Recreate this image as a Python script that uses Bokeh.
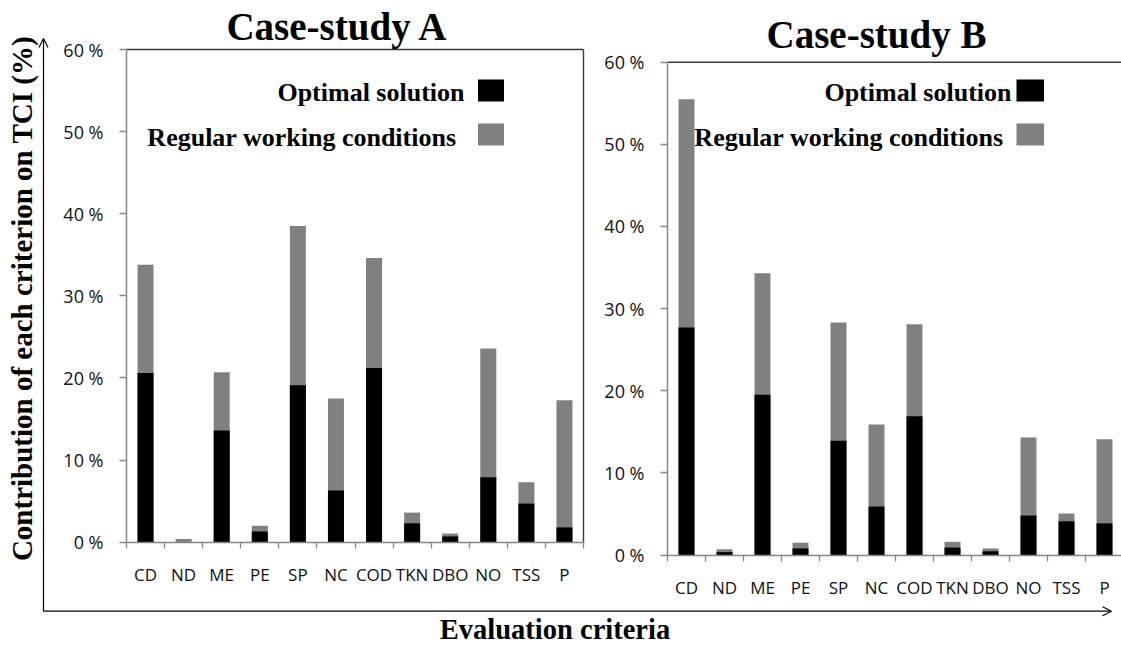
import math
from bokeh.plotting import figure
from bokeh.models import (Range1d, FixedTicker, Label, Arrow, OpenHead,
                          BoxAnnotation, ColumnDataSource, LinearAxis)
from bokeh.embed import file_html
from bokeh.resources import INLINE

# ---------------- data ----------------
criteria = ["CD", "ND", "ME", "PE", "SP", "NC", "COD", "TKN", "DBO", "NO", "TSS", "P"]
a_optimal = [20.6, 0.0, 13.6, 1.3, 19.1, 6.3, 21.2, 2.3, 0.7, 7.9, 4.7, 1.8]
a_regular = [33.8, 0.4, 20.7, 2.0, 38.5, 17.5, 34.6, 3.6, 1.05, 23.6, 7.3, 17.3]
b_optimal = [27.7, 0.35, 19.5, 0.8, 13.9, 5.9, 16.9, 0.9, 0.45, 4.8, 4.1, 3.85]
b_regular = [55.5, 0.7, 34.3, 1.5, 28.3, 15.9, 28.1, 1.6, 0.8, 14.3, 5.05, 14.1]
y_ticks = [0, 10, 20, 30, 40, 50, 60]
y_tick_labels = ["0 %", "10 %", "20 %", "30 %", "40 %", "50 %", "60 %"]
titles = ["Case-study A", "Case-study B"]
legend_labels = ["Optimal solution", "Regular working conditions"]
y_title = "Contribution of each criterion on TCI (%)"
x_title = "Evaluation criteria"

BLACK = "#000000"
GREY = "#808080"
AXIS = "#868686"
BORDER = "#3a3a3a"
SERIF = "Liberation Serif"
SANS = "Open Sans"

W, H = 1121, 648
N = len(criteria)
YMAX = y_ticks[-1]
SHIFT = 0.31   # empirical: label anchor vs. visible baseline, in em


def lin_range(p0, v0, p1, v1, lo, hi):
    """Range whose values v0/v1 fall on canvas pixels p0/p1, spanning pixels lo..hi."""
    k = (v1 - v0) / (p1 - p0)
    return Range1d(v0 + (lo - p0) * k, v0 + (hi - p0) * k)


# one canvas; its frame is the whole canvas
p = figure(width=W, height=H, output_backend="svg", toolbar_location=None,
           x_range=Range1d(0, W), y_range=Range1d(H, 0),
           x_axis_type=None, y_axis_type=None,
           min_border_left=0, min_border_right=0, min_border_top=0, min_border_bottom=0)
p.outline_line_color = None
p.xgrid.visible = False
p.ygrid.visible = False
p.background_fill_color = "white"
p.border_fill_color = "white"

# panel geometry (canvas pixels): A frame x 126..583, y 49..541.7 ; B frame x 667.., y 61.7..554.5
A_L, A_R, A_T, A_B = 126.0, 583.0, 49.0, 541.7
B_L, B_PX, B_T, B_B = 667.0, 38.0, 61.7, 554.5

p.extra_x_ranges = {
    "xa": lin_range(A_L, -0.5, A_R, N - 0.5, 0, W),
    "xb": lin_range(B_L, -0.5, B_L + N * B_PX, N - 0.5, 0, W),
}
p.extra_y_ranges = {
    "ya": lin_range(A_B, 0, A_T, YMAX, H, 0),
    "yb": lin_range(B_B, 0, B_T, YMAX, H, 0),
}


def panel(xr, yr, opt, reg, right_border):
    src = ColumnDataSource(dict(x=list(range(N)), opt=opt, reg=reg))
    p.vbar(x="x", top="reg", width=0.42, source=src, fill_color=GREY, line_color=None,
           x_range_name=xr, y_range_name=yr)
    p.vbar(x="x", top="opt", width=0.42, source=src, fill_color=BLACK, line_color=None,
           x_range_name=xr, y_range_name=yr)
    # frame border: top (and right for A)
    x0 = [-0.5]
    y0 = [YMAX]
    x1 = [N - 0.5]
    y1 = [YMAX]
    if right_border:
        x0.append(N - 0.5); y0.append(0); x1.append(N - 0.5); y1.append(YMAX)
    p.segment(x0=x0, y0=y0, x1=x1, y1=y1, line_color=BORDER, line_width=1.4,
              x_range_name=xr, y_range_name=yr)

    xa = LinearAxis(x_range_name=xr, y_range_name=yr, fixed_location=0,
                    bounds=(-0.5, N - 0.5))
    xa.ticker = FixedTicker(ticks=list(range(N)),
                            minor_ticks=[i - 0.5 for i in range(N + 1)])
    xa.major_label_overrides = {i: c for i, c in enumerate(criteria)}
    xa.axis_line_color = AXIS
    xa.axis_line_width = 1.5
    xa.major_tick_line_color = None
    xa.major_tick_out = 0
    xa.major_tick_in = 0
    xa.minor_tick_line_color = AXIS
    xa.minor_tick_out = 6
    xa.minor_tick_in = 0
    xa.minor_tick_line_width = 1.3
    xa.major_label_standoff = 15
    xa.major_label_text_font = SANS
    xa.major_label_text_font_size = "17px"
    xa.major_label_text_color = "#111111"
    p.add_layout(xa, "below")

    ya = LinearAxis(x_range_name=xr, y_range_name=yr, fixed_location=-0.5,
                    bounds=(0, YMAX))
    ya.ticker = FixedTicker(ticks=y_ticks, minor_ticks=[])
    ya.major_label_overrides = dict(zip(y_ticks, y_tick_labels))
    ya.axis_line_color = AXIS
    ya.axis_line_width = 1.5
    ya.major_tick_line_color = AXIS
    ya.major_tick_line_width = 1.3
    ya.major_tick_out = 7
    ya.major_tick_in = 0
    ya.minor_tick_line_color = None
    ya.major_label_standoff = 16
    ya.major_label_text_font = SANS
    ya.major_label_text_font_size = "18px"
    ya.major_label_text_color = "#111111"
    p.add_layout(ya, "left")


panel("xa", "ya", a_optimal, a_regular, True)
panel("xb", "yb", b_optimal, b_regular, False)


def text(x, y, s, size, align="center", angle=0.0, shift=SHIFT):
    """Bold serif text whose visible baseline sits at (x, y)."""
    d = shift * size
    if angle:
        x -= d
    else:
        y -= d
    p.add_layout(Label(x=x, y=y, text=s, text_align=align, text_baseline="alphabetic",
                       angle=angle, text_font=SERIF, text_font_style="bold",
                       text_font_size=f"{size}px", text_color="black"))


def swatch(l, r, t, b, color):
    p.add_layout(BoxAnnotation(left=l, right=r, top=t, bottom=b, fill_color=color,
                               fill_alpha=1, line_color=None))


# titles
text(337, 38.5, titles[0], 39)
text(876, 46.5, titles[1], 39)

# legends (text right-aligned, swatch on the right)
text(464, 100, legend_labels[0], 26, "right")
text(456, 145, legend_labels[1], 26, "right")
swatch(477.5, 503.5, 79, 101, BLACK)
swatch(477.5, 503.5, 123, 145, GREY)
text(1011, 100, legend_labels[0], 26, "right")
text(1003, 145, legend_labels[1], 26, "right")
swatch(1016, 1043.5, 79, 101, BLACK)
swatch(1016, 1043.5, 123, 145, GREY)

# outer axes with open arrow heads
p.add_layout(Arrow(end=OpenHead(size=9, line_width=1.2, line_color="black"),
                   x_start=43, y_start=610.7, x_end=43, y_end=38,
                   line_color="black", line_width=1.2))
p.add_layout(Arrow(end=OpenHead(size=9, line_width=1.2, line_color="black"),
                   x_start=43, y_start=610.7, x_end=1111, y_end=610.7,
                   line_color="black", line_width=1.2))

# axis titles
text(33, 298, y_title, 29, "center", math.pi / 2, 0.38)
text(554.5, 639, x_title, 28.5, shift=0.34)

open("out.html", "w").write(file_html(p, INLINE))
